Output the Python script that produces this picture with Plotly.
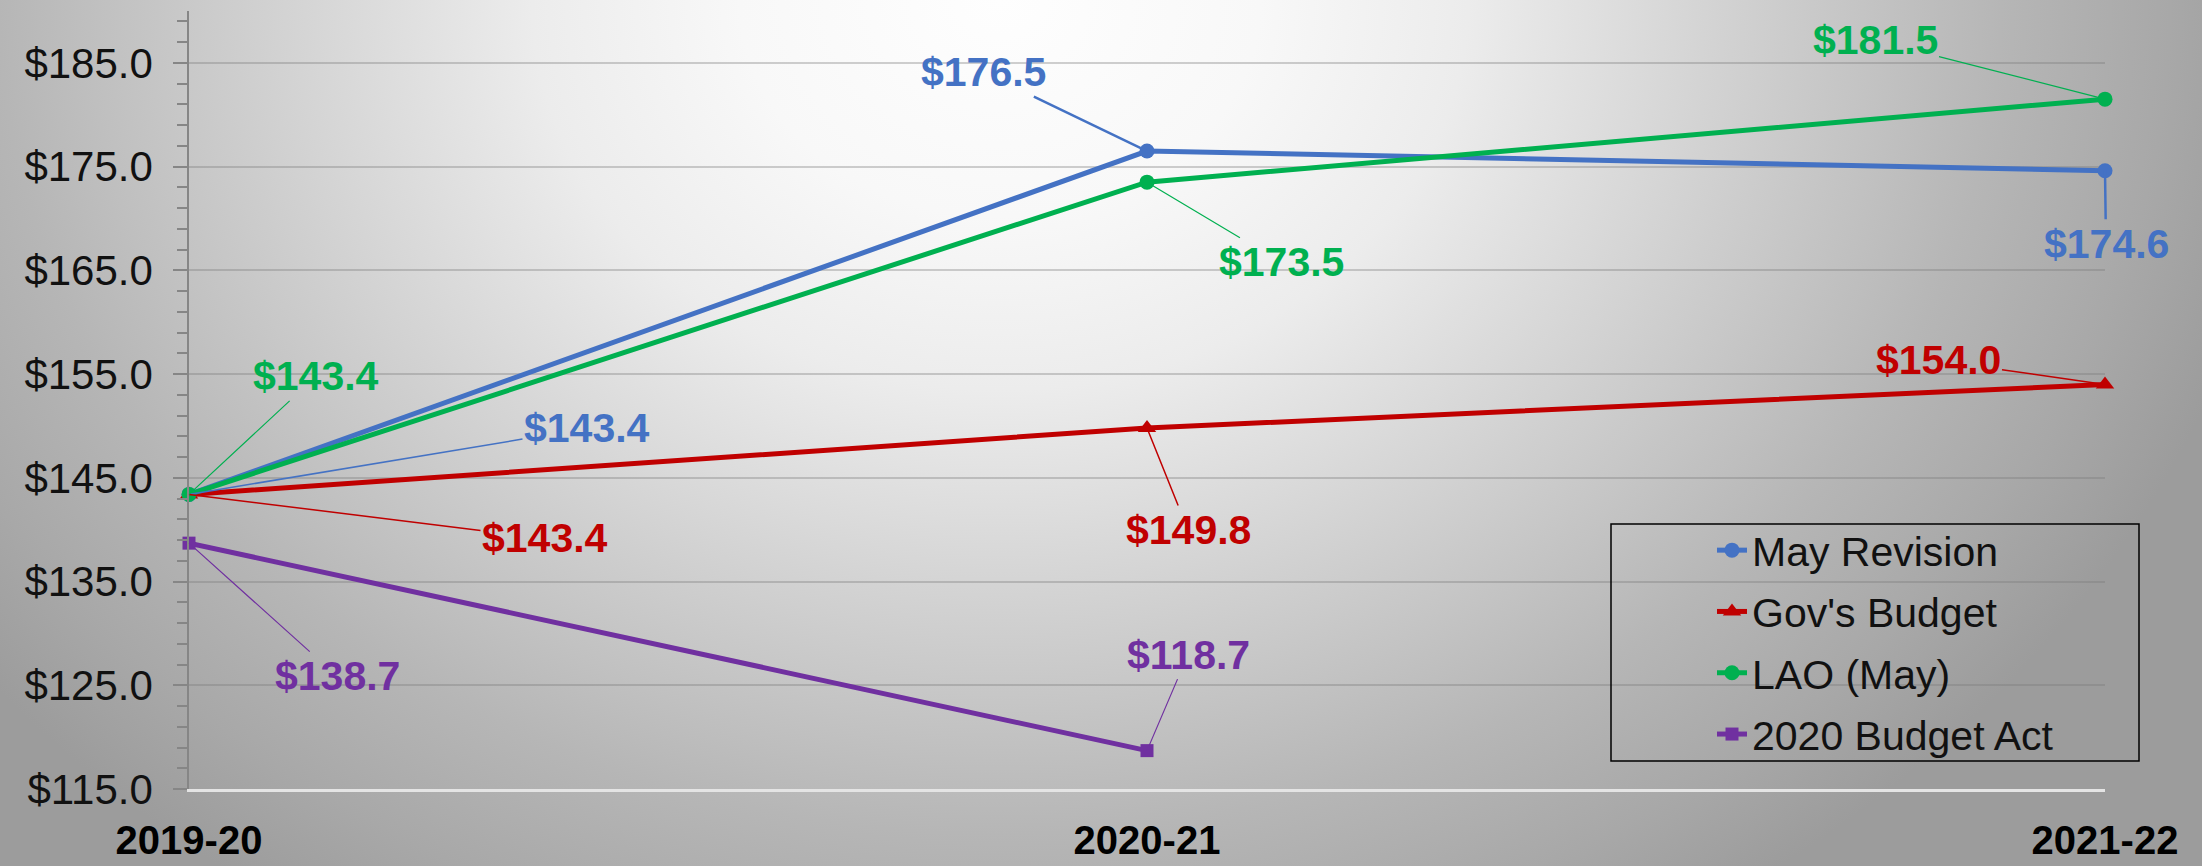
import base64
import plotly.graph_objects as go

# ---------------- data ----------------
categories = ["2019-20", "2020-21", "2021-22"]
series_names = ["May Revision", "Gov's Budget", "LAO (May)", "2020 Budget Act"]
may_revision = [143.4, 176.5, 174.6]
govs_budget = [143.4, 149.8, 154.0]
lao_may = [143.4, 173.5, 181.5]
budget_act_2020 = [138.7, 118.7, None]
y_tick_values = [115, 125, 135, 145, 155, 165, 175, 185]
y_tick_labels = ["$115.0", "$125.0", "$135.0", "$145.0", "$155.0", "$165.0", "$175.0", "$185.0"]

series_values = [may_revision, govs_budget, lao_may, budget_act_2020]

# ---------------- styles ----------------
colors = ["#4472C4", "#C00000", "#00B050", "#7030A0"]
symbols = ["circle", "triangle-up", "circle", "square"]
marker_sizes = [15, 16, 15, 13]
# label offsets (pixels) from each point, per series
label_offsets = [
    [(398, -66), (-164, -79), (1, 73)],
    [(356, 44), (41, 102), (-167, -24)],
    [(127, -118), (134, 80), (-230, -59)],
    [(148, 133), (41, -96), None],
]
leader_widths = [
    [1.5, 2.5, 2.5],
    [1.5, 1.5, 1.5],
    [1.2, 1.2, 1.2],
    [1.2, 1.2, 1.2],
]

FONT = "Liberation Sans, Arial, sans-serif"
W, H = 2202, 866
L, R, T, B = 189, 97, 11, 77
PW, PH = W - L - R, H - T - B

fig = go.Figure()
for name, vals, c, s, ms in zip(series_names, series_values, colors, symbols, marker_sizes):
    fig.add_trace(go.Scatter(
        x=categories, y=vals, name=name, mode="lines+markers",
        line=dict(color=c, width=5),
        marker=dict(symbol=s, size=ms, color=c),
        cliponaxis=False, legendgroup=name,
    ))

annotations = []
for si, (vals, c) in enumerate(zip(series_values, colors)):
    for ci, v in enumerate(vals):
        off = label_offsets[si][ci]
        if v is None or off is None:
            continue
        annotations.append(dict(
            x=categories[ci], y=v, xref="x", yref="y",
            text=f"${v:.1f}", showarrow=True, arrowhead=0,
            arrowwidth=leader_widths[si][ci], arrowcolor=c,
            ax=off[0], ay=off[1], standoff=0, startstandoff=0,
            font=dict(family=FONT, size=41, color=c, weight="bold"),
        ))

# radial gradient background
svg = (
    f'<svg xmlns="http://www.w3.org/2000/svg" width="{W}" height="{H}" viewBox="0 0 {W} {H}" preserveAspectRatio="none">'
    '<defs><radialGradient id="g" gradientUnits="userSpaceOnUse" cx="1000" cy="0" r="1300" '
    'gradientTransform="translate(1000 0) scale(1 0.833) translate(-1000 0)">'
    '<stop offset="0" stop-color="#fefefe"/><stop offset="0.2" stop-color="#f8f8f8"/>'
    '<stop offset="0.36" stop-color="#ececec"/><stop offset="0.77" stop-color="#b6b6b6"/>'
    '<stop offset="0.9" stop-color="#a8a8a8"/><stop offset="1" stop-color="#9c9c9c"/>'
    '</radialGradient></defs>'
    f'<rect width="{W}" height="{H}" fill="url(#g)"/></svg>'
)
bg_src = "data:image/svg+xml;base64," + base64.b64encode(svg.encode()).decode()

axis_gray = "#868686"
fig.update_layout(
    width=W, height=H,
    margin=dict(l=L, r=R, t=T, b=B, pad=0, autoexpand=False),
    paper_bgcolor="rgba(0,0,0,0)", plot_bgcolor="rgba(0,0,0,0)",
    font=dict(family=FONT, color="#111111"),
    showlegend=True,
    legend=dict(
        x=(1712 - L) / PW, y=(H - B - 517) / PH, xanchor="left", yanchor="top",
        bgcolor="rgba(0,0,0,0)", borderwidth=0,
        font=dict(family=FONT, size=41, color="#111111"),
        tracegroupgap=5, traceorder="grouped",
    ),
    images=[dict(
        source=bg_src, xref="paper", yref="paper",
        x=-L / PW, y=1 + T / PH, sizex=W / PW, sizey=H / PH,
        xanchor="left", yanchor="top", sizing="stretch", layer="below",
    )],
    shapes=[dict(
        type="rect", xref="paper", yref="paper",
        x0=(1611 - L) / PW, x1=(2139 - L) / PW,
        y0=(H - B - 761) / PH, y1=(H - B - 524) / PH,
        line=dict(color="#000000", width=1.5), fillcolor="rgba(0,0,0,0)", layer="above",
    )],
    annotations=annotations,
    xaxis=dict(
        type="category", range=[0, 2], showgrid=False, zeroline=False,
        showline=True, linecolor="#e4e4e4", linewidth=3,
        ticks="", ticklabelstandoff=14, automargin=False,
        tickfont=dict(family=FONT, size=40, color="#000000", weight="bold"),
    ),
    yaxis=dict(
        range=[115, 190], tickvals=y_tick_values, ticktext=y_tick_labels,
        ticks="outside", ticklen=14, tickwidth=1.5, tickcolor=axis_gray,
        showline=True, linecolor=axis_gray, linewidth=1.5,
        showgrid=True, gridcolor="rgba(120,120,120,0.35)", gridwidth=1.5,
        zeroline=False, ticklabelstandoff=12, automargin=False,
        tickfont=dict(family=FONT, size=42, color="#111111"),
        minor=dict(tick0=115, dtick=2, ticks="outside", ticklen=10,
                   tickwidth=1.5, tickcolor=axis_gray, showgrid=False),
    ),
    yaxis2=dict(
        overlaying="y", side="left", range=[115, 190], showticklabels=False,
        showgrid=False, zeroline=False, showline=False, ticks="", automargin=False,
        minor=dict(tick0=115, dtick=2, ticks="inside", ticklen=10,
                   tickwidth=1.5, tickcolor=axis_gray, showgrid=False),
    ),
)

fig.write_html(
    "out.html",
    config={"displayModeBar": False},
    post_script="document.body.style.margin='0';document.body.style.overflow='hidden';",
)
